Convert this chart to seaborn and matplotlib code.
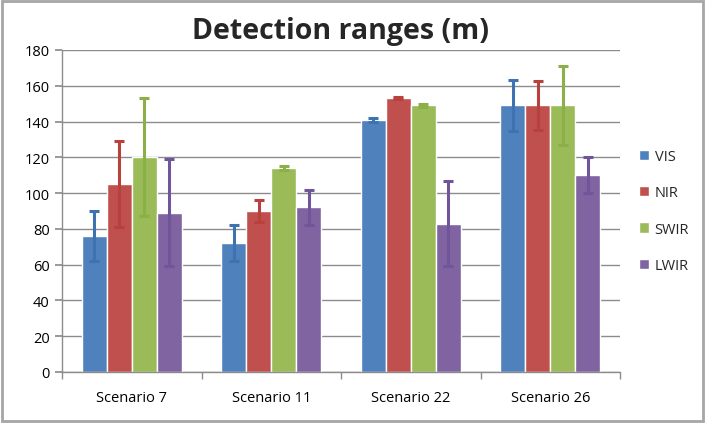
import matplotlib
matplotlib.use("Agg")

import matplotlib.pyplot as plt
import matplotlib.patches as mpatches
import matplotlib.ticker as mticker
import numpy as np
import pandas as pd
import seaborn as sns

# ── Data ──────────────────────────────────────────────────────────────────────
SCENARIOS = ["Scenario 7", "Scenario 11", "Scenario 22", "Scenario 26"]
BANDS = ["VIS", "NIR", "SWIR", "LWIR"]

VIS  = [76, 72, 141, 149]
NIR  = [105, 90, 153, 149]
SWIR = [120, 114, 149, 149]
LWIR = [89, 92, 83, 110]

VIS_ERR  = [14, 10, 1, 14]
NIR_ERR  = [24, 6, 0.5, 13.5]
SWIR_ERR = [33, 1, 1, 22]
LWIR_ERR = [30, 10, 23.5, 10]

COLORS = {"VIS": "#4F81BD", "NIR": "#C0504D", "SWIR": "#9BBB59", "LWIR": "#8064A2"}
ERR_COLORS = {"VIS": "#3F72B0", "NIR": "#B8403D", "SWIR": "#8CB048", "LWIR": "#70559A"}

values = {"VIS": VIS, "NIR": NIR, "SWIR": SWIR, "LWIR": LWIR}
errors = {"VIS": VIS_ERR, "NIR": NIR_ERR, "SWIR": SWIR_ERR, "LWIR": LWIR_ERR}

rows = []
for band in BANDS:
    for sc, v, e in zip(SCENARIOS, values[band], errors[band]):
        rows.append({"scenario": sc, "band": band, "range": v, "err": e})
df = pd.DataFrame(rows)

# ── Figure ────────────────────────────────────────────────────────────────────
sns.set_theme(style="white")
plt.rcParams["font.family"] = ["Open Sans", "DejaVu Sans"]

fig = plt.figure(figsize=(7.08, 4.27), dpi=100)
ax = fig.add_axes([62 / 708, 54 / 427, 558 / 708, 322 / 427])

sns.barplot(data=df, x="scenario", y="range", hue="band", order=SCENARIOS,
            hue_order=BANDS, palette=COLORS, width=0.72, gap=0,
            errorbar=None, saturation=1, ax=ax)

# error bars on each bar centre
for band, cont in zip(BANDS, ax.containers):
    xs = [p.get_x() + p.get_width() / 2 for p in cont.patches]
    ax.errorbar(xs, values[band], yerr=errors[band], fmt="none",
                ecolor=ERR_COLORS[band], elinewidth=2.2, capsize=3.5,
                capthick=2.2, zorder=3)

ax.set_ylim(0, 180)
ax.set_xlim(-0.5, 3.5)
ax.yaxis.set_major_locator(mticker.MultipleLocator(20))
ax.yaxis.grid(True, color="#8C8C8C", lw=1)
ax.set_axisbelow(True)
ax.set_xlabel("")
ax.set_ylabel("")

for side in ["top", "right"]:
    ax.spines[side].set_visible(False)
for side in ["left", "bottom"]:
    ax.spines[side].set_color("#8C8C8C")
    ax.spines[side].set_linewidth(1)

ax.tick_params(axis="y", length=5, color="#8C8C8C", labelsize=10.5, pad=4,
               left=True, labelcolor="black")
ax.tick_params(axis="x", which="major", length=0, labelsize=10.5, pad=13,
               labelcolor="black")
ax.xaxis.set_minor_locator(mticker.FixedLocator(np.arange(-0.5, 4, 1)))
ax.tick_params(axis="x", which="minor", length=5, color="#8C8C8C", bottom=True)

ax.set_title("Detection ranges (m)", fontsize=20.5, fontweight="bold",
             pad=9, x=0.5)

leg = ax.legend(loc="center left", bbox_to_anchor=(1.01, 0.5), frameon=False,
                fontsize=10.5, handlelength=0.7, handleheight=0.7,
                labelspacing=1.45, handletextpad=0.4)

# outer chart border
fig.patches.append(mpatches.Rectangle((0.003, 0.012), 0.99, 0.983,
                                      transform=fig.transFigure, fill=False,
                                      edgecolor="#A6A6A6", lw=2))

fig.savefig("out.png", dpi=100)
